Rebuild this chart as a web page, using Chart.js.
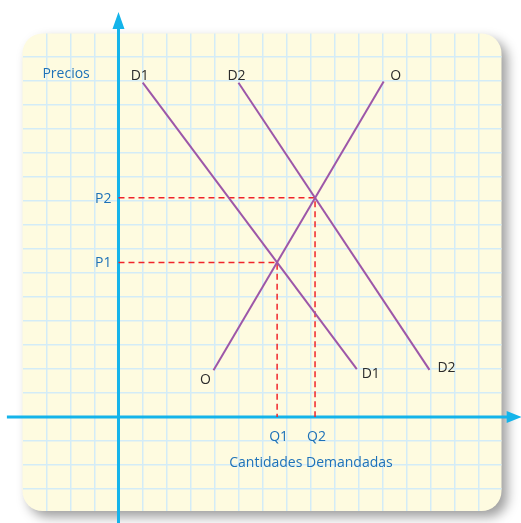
<!DOCTYPE html>
<html>
<head>
<meta charset="utf-8">
<script src="https://cdn.jsdelivr.net/npm/chart.js@4/dist/chart.umd.min.js"></script>
<style>
    html, body { margin: 0; padding: 0; background: #ffffff; }
    canvas { display: block; }
</style>
</head>
<body>
<canvas id="chart" width="521" height="523"></canvas>
<script>
// curves: two demand lines and the supply ("oferta") line
const curveNames = ["D1", "D2", "O"];
const d1Line = [{ x: 1.01, y: 13.93 }, { x: 9.93, y: 1.99 }];
const d2Line = [{ x: 5, y: 13.93 }, { x: 12.96, y: 1.96 }];
const oLine = [{ x: 3.96, y: 1.95 }, { x: 11.05, y: 13.98 }];

// equilibrium points (where each D meets O)
const qTicks = [6.61, 8.19];
const qLabels = ["Q1", "Q2"];
const pTicks = [6.44, 9.13];
const pLabels = ["P1", "P2"];

const gridSteps = [-3, -2, -1, 0, 1, 2, 3, 4, 5, 6, 7, 8, 9, 10, 11, 12, 13, 14, 15];
const yTitle = "Precios";
const xTitle = "Cantidades Demandadas";

const FONT = "'Open Sans', sans-serif";
const BLUE = "#1d71b8";
const DARK = "#2b2b2b";
const AXIS = "#14b4ea";
const PURPLE = "#9d57a8";
const RED = "#f0242a";

const guides = qTicks.map((q, i) => ({
    label: pLabels[i] + "-" + qLabels[i],
    data: [{ x: 0, y: pTicks[i] }, { x: q, y: pTicks[i] }, { x: q, y: 0 }],
    borderColor: RED,
    borderWidth: 1.5,
    borderDash: [6, 4],
    pointRadius: 0,
    showLine: true,
    fill: false
}));

const curves = [d1Line, d2Line, oLine].map((pts, i) => ({
    label: curveNames[i],
    data: pts,
    borderColor: PURPLE,
    borderWidth: 2,
    pointRadius: 0,
    showLine: true,
    fill: false
}));

// graph paper with rounded corners and a soft shadow
const paperPlugin = {
    id: "paper",
    beforeDraw(chart) {
        const { ctx, chartArea: a } = chart;
        ctx.save();
        ctx.shadowColor = "rgba(0,0,0,0.38)";
        ctx.shadowBlur = 12;
        ctx.shadowOffsetX = 6;
        ctx.shadowOffsetY = 6;
        ctx.fillStyle = "#fefbe0";
        ctx.beginPath();
        ctx.roundRect(a.left, a.top, a.right - a.left, a.bottom - a.top, 20);
        ctx.fill();
        ctx.restore();
    }
};

// axes with arrow heads, they run past the paper
const axesPlugin = {
    id: "axesArrows",
    beforeDatasetsDraw(chart) {
        const { ctx, scales: { x, y } } = chart;
        const x0 = x.getPixelForValue(0), y0 = y.getPixelForValue(0);
        const xEnd = x.getPixelForValue(16.8), yTop = y.getPixelForValue(16.88);
        ctx.save();
        ctx.strokeStyle = AXIS;
        ctx.fillStyle = AXIS;
        ctx.lineWidth = 3;
        ctx.beginPath();
        ctx.moveTo(x.getPixelForValue(-4.65), y0);
        ctx.lineTo(xEnd - 10, y0);
        ctx.moveTo(x0, y.getPixelForValue(-4.6));
        ctx.lineTo(x0, yTop + 10);
        ctx.stroke();
        ctx.beginPath();
        ctx.moveTo(xEnd, y0);
        ctx.lineTo(xEnd - 15, y0 - 6);
        ctx.lineTo(xEnd - 15, y0 + 6);
        ctx.closePath();
        ctx.moveTo(x0, yTop);
        ctx.lineTo(x0 - 6, yTop + 17);
        ctx.lineTo(x0 + 6, yTop + 17);
        ctx.closePath();
        ctx.fill();
        ctx.restore();
    }
};

// names at both ends of each curve, P/Q tick labels and the two axis titles
const endOffsets = [
    [[-3, -7], [14, 5]],
    [[-2, -7], [17, -2]],
    [[-8, 10], [12, -5]]
];

const labelsPlugin = {
    id: "curveLabels",
    afterDatasetsDraw(chart) {
        const { ctx, scales: { x, y } } = chart;
        const x0 = x.getPixelForValue(0), y0 = y.getPixelForValue(0);
        ctx.save();
        ctx.font = "14px " + FONT;
        ctx.textBaseline = "middle";
        ctx.textAlign = "center";
        ctx.fillStyle = DARK;
        curves.forEach((c, i) => {
            c.data.forEach((p, j) => {
                const [dx, dy] = endOffsets[i][j];
                ctx.fillText(curveNames[i], x.getPixelForValue(p.x) + dx, y.getPixelForValue(p.y) + dy);
            });
        });
        ctx.fillStyle = BLUE;
        qTicks.forEach((q, i) => {
            ctx.fillText(qLabels[i], x.getPixelForValue(q) + 1.5, y0 + 20);
        });
        ctx.textAlign = "right";
        pTicks.forEach((p, i) => {
            ctx.fillText(pLabels[i], x0 - 7, y.getPixelForValue(p) + 1);
        });
        ctx.textAlign = "left";
        ctx.fillText(yTitle, x.getPixelForValue(-3.17), y.getPixelForValue(14.28));
        ctx.textAlign = "center";
        ctx.fillText(xTitle, x.getPixelForValue(8.02), y.getPixelForValue(-1.92));
        ctx.restore();
    }
};

const gridColor = (ctx) => gridSteps.includes(ctx.tick && ctx.tick.value) ? "#d3ecf7" : "rgba(0,0,0,0)";

new Chart(document.getElementById("chart"), {
    type: "scatter",
    data: { datasets: [...curves, ...guides] },
    options: {
        responsive: false,
        animation: false,
        devicePixelRatio: 1,
        layout: { padding: { left: 22.5, right: 19.5, top: 33.5, bottom: 12 } },
        plugins: { legend: { display: false }, tooltip: { enabled: false } },
        scales: {
            x: {
                type: "linear", min: -4, max: 15.96,
                afterBuildTicks: (s) => { s.ticks = gridSteps.map((v) => ({ value: v })); },
                grid: { color: gridColor, lineWidth: 1.5, drawTicks: false },
                border: { display: false },
                ticks: { display: false }
            },
            y: {
                type: "linear", min: -3.92, max: 15.98,
                afterBuildTicks: (s) => { s.ticks = gridSteps.map((v) => ({ value: v })); },
                grid: { color: gridColor, lineWidth: 1.5, drawTicks: false },
                border: { display: false },
                ticks: { display: false }
            }
        }
    },
    plugins: [paperPlugin, axesPlugin, labelsPlugin]
});
</script>
</body>
</html>
